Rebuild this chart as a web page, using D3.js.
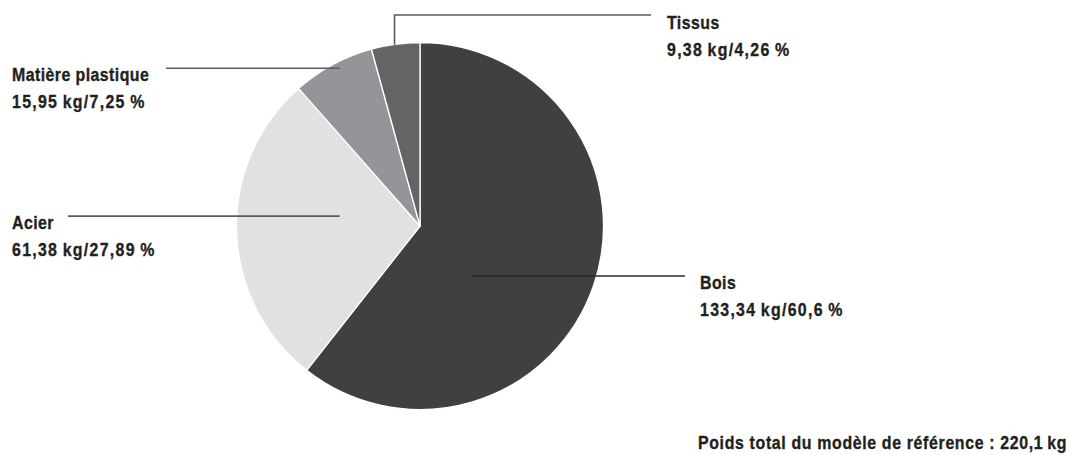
<!DOCTYPE html>
<html>
<head>
<meta charset="utf-8">
<script src="https://cdn.jsdelivr.net/npm/d3@7"></script>
<style>
  html, body { margin: 0; padding: 0; background: #fff; }
  svg text {
    font-family: "Liberation Sans", Arial, sans-serif;
    font-weight: bold;
    fill: #231f20;
    stroke: #231f20;
    stroke-width: 0.35px;
  }
</style>
</head>
<body>
<div id="chart"></div>
<script>
// data
var materials = ["Bois", "Acier", "Matière plastique", "Tissus"];
var weightsKg = [133.34, 61.38, 15.95, 9.38];
var percents = [60.6, 27.89, 7.25, 4.26];
var totalKg = 220.1;
var totalLabel = "Poids total du modèle de référence";

var sliceColors = ["#404040", "#e1e1e3", "#939598", "#636466"];

var width = 1070, height = 455;
var cx = 420, cy = 226, radius = 183.5; // pie placement
var narrow = 0.86; // horizontal squeeze to mimic a condensed face
var fontSize = "18.5px";

// leader layout: anchor on the pie (angle in degrees clockwise from top, radius),
// end point of the line and text position
var labelLayout = [
  { angle: 134, r: 72, lineY: null, endX: 685, textX: 700, textY: 289 },
  { angle: 277, r: 81, lineY: null, endX: 68, textX: 12, textY: 229 },
  { angle: 333, r: 177, lineY: null, endX: 166, textX: 12, textY: 81 },
  { angle: 352, r: 183, lineY: 15, endX: 651, textX: 667, textY: 29 }
];

var fr = d3.formatLocale({ decimal: ",", thousands: "\u202f", grouping: [3], currency: ["", " €"] });
var fmt = fr.format(".2~f");
var thin = "\u2009";

var data = materials.map(function (m, i) {
  return { name: m, kg: weightsKg[i], pct: percents[i], color: sliceColors[i], layout: labelLayout[i] };
});

var svg = d3.select("#chart").append("svg")
  .attr("width", width)
  .attr("height", height);

var g = svg.append("g")
  .attr("transform", "translate(" + cx + "," + cy + ")");

var pie = d3.pie()
  .sort(null)
  .value(function (d) { return d.kg; });

var arc = d3.arc()
  .innerRadius(0)
  .outerRadius(radius);

g.selectAll("path.slice")
  .data(pie(data))
  .enter().append("path")
  .attr("class", "slice")
  .attr("d", arc)
  .attr("fill", function (d) { return d.data.color; })
  .attr("stroke", "#fff")
  .attr("stroke-width", 1.3)
  .attr("stroke-linejoin", "round");

// leader lines
g.selectAll("path.leader")
  .data(data)
  .enter().append("path")
  .attr("class", "leader")
  .attr("fill", "none")
  .attr("stroke", function (d, i) { return i === 0 ? "#2a2a2a" : "#5b5b5d"; })
  .attr("stroke-width", 1.6)
  .attr("d", function (d) {
    var L = d.layout;
    var p = d3.pointRadial(L.angle * Math.PI / 180, L.r);
    if (L.lineY != null) {
      return "M" + p[0] + "," + p[1] + "V" + (L.lineY - cy) + "H" + (L.endX - cx);
    }
    return "M" + p[0] + "," + p[1] + "H" + (L.endX - cx);
  });

// labels
var labels = svg.selectAll("g.label")
  .data(data)
  .enter().append("g")
  .attr("class", "label")
  .attr("transform", function (d) {
    return "translate(" + d.layout.textX + "," + d.layout.textY + ") scale(" + narrow + ",1)";
  });

labels.append("text")
  .attr("font-size", fontSize)
  .attr("letter-spacing", "0.5px")
  .text(function (d) { return d.name; });

labels.append("text")
  .attr("y", 27)
  .attr("font-size", fontSize)
  .attr("letter-spacing", "1.5px")
  .text(function (d) { return fmt(d.kg) + thin + "kg/" + fmt(d.pct) + thin + "%"; });

svg.append("g")
  .attr("transform", "translate(1067,449) scale(" + narrow + ",1)")
  .append("text")
  .attr("text-anchor", "end")
  .attr("font-size", fontSize)
  .attr("letter-spacing", "0.75px")
  .text(totalLabel + " : " + fr.format(".1~f")(totalKg) + thin + "kg");
</script>
</body>
</html>
